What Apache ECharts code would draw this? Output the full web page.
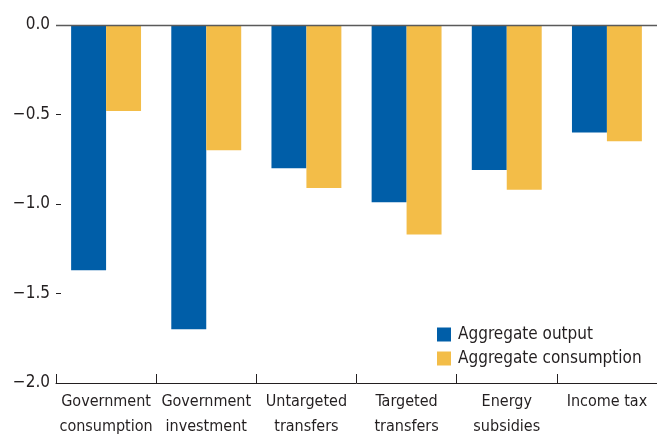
<!DOCTYPE html>
<html>
<head>
<meta charset="utf-8">
<script src="https://cdn.jsdelivr.net/npm/echarts@6/dist/echarts.min.js"></script>
<style>
html,body{margin:0;padding:0;background:#fff;}
#chart{width:657px;height:439px;}
</style>
</head>
<body>
<div id="chart"></div>
<script>
const categories = ["Government\nconsumption", "Government\ninvestment", "Untargeted\ntransfers", "Targeted\ntransfers", "Energy\nsubsidies", "Income tax"];
const aggregateOutput = [-1.37, -1.70, -0.80, -0.99, -0.81, -0.60];
const aggregateConsumption = [-0.48, -0.70, -0.91, -1.17, -0.92, -0.65];
const seriesNames = ["Aggregate output", "Aggregate consumption"];
const yTicks = { min: -2.0, max: 0.0, interval: 0.5 };

const FONT = '"DejaVu Sans Condensed", "Liberation Sans Narrow", sans-serif';
const TEXT = '#231f20';

const chart = echarts.init(document.getElementById('chart'), null, { renderer: 'canvas' });
chart.setOption({
  animation: false,
  textStyle: { fontFamily: FONT },
  grid: { left: 56, right: -1, top: 25, bottom: 47, containLabel: false },
  legend: {
    orient: 'vertical',
    left: 432,
    top: 321,
    itemWidth: 14,
    itemHeight: 14,
    itemGap: 7,
    icon: 'rect',
    textStyle: { fontFamily: FONT, fontSize: 17, color: TEXT, padding: [0, 0, 0, 2] },
    data: seriesNames
  },
  xAxis: {
    type: 'category',
    data: categories,
    axisLine: { onZero: false, lineStyle: { color: '#231f20', width: 1 } },
    axisTick: { show: true, inside: true, length: 9, lineStyle: { color: '#231f20' } },
    axisLabel: { fontFamily: FONT, fontSize: 16, color: TEXT, margin: 6, lineHeight: 25, interval: 0 }
  },
  yAxis: {
    type: 'value',
    min: yTicks.min,
    max: yTicks.max,
    interval: yTicks.interval,
    axisLine: { show: false },
    axisTick: { show: true, inside: true, length: 5, lineStyle: { color: '#231f20' } },
    splitLine: { show: false },
    axisLabel: {
      fontFamily: FONT, fontSize: 17, color: TEXT, margin: 6,
      formatter: v => (v < 0 ? '\u2212' : '') + Math.abs(v).toFixed(1)
    }
  },
  series: [
    {
      name: seriesNames[0],
      type: 'bar',
      data: aggregateOutput,
      barGap: '0%',
      barCategoryGap: '30.2%',
      itemStyle: { color: '#005EA8' },
      markLine: {
        silent: true,
        symbol: 'none',
        z: 10,
        label: { show: false },
        lineStyle: { color: '#5a5a5a', width: 1.3, type: 'solid' },
        data: [{ yAxis: 0 }]
      }
    },
    {
      name: seriesNames[1],
      type: 'bar',
      data: aggregateConsumption,
      itemStyle: { color: '#F3BD48' }
    }
  ]
});
</script>
</body>
</html>
